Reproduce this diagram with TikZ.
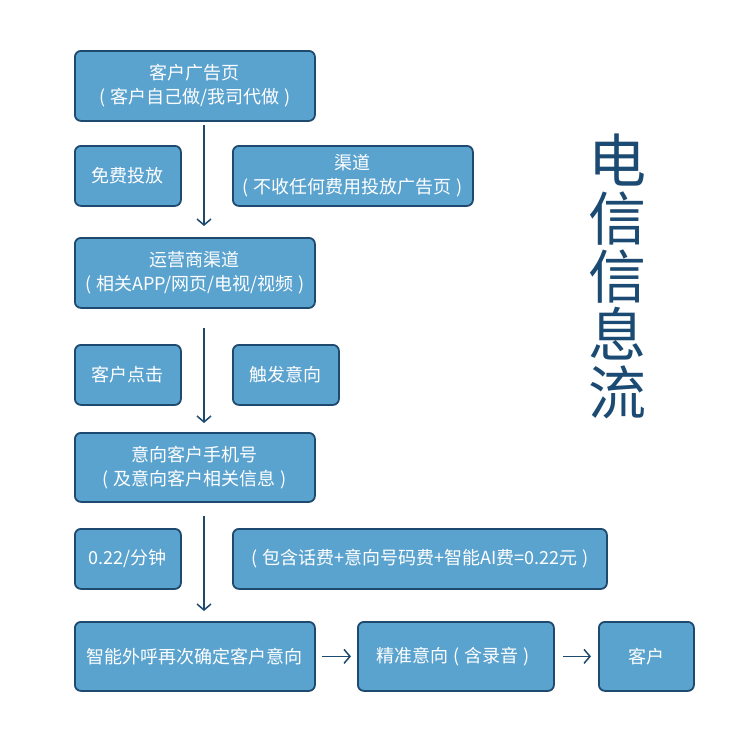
\documentclass[tikz,border=0pt]{standalone}
\usepackage{fontspec}
\setmainfont{Noto Sans CJK SC}
\usetikzlibrary{arrows.meta}
\definecolor{boxfill}{HTML}{5BA3CF}
\definecolor{boxline}{HTML}{1F4A70}
\definecolor{titleblue}{HTML}{1B4A72}
\newcommand{\lp}{\makebox[0.9em][c]{(}}
\newcommand{\rp}{\makebox[0.9em][c]{)}}
\tikzset{
  box/.style={draw=boxline, line width=1.8pt, fill=boxfill, rounded corners=6pt,
    text=white, align=center, font=\fontsize{18}{24}\selectfont, inner sep=0pt},
  flow/.style={draw=boxline, line width=1.5pt, -{Straight Barb[length=6pt,width=14pt,line width=1.5pt]}}
}
\newcommand{\mkbox}[6]{% name, x1, y1, x2, y2, text
  \node[box, minimum width={#4-#2}, minimum height={#5-#3}, anchor=north west] (#1) at (#2,#3) {#6};}
\begin{document}
\begin{tikzpicture}[x=1pt,y=-1pt]
\useasboundingbox (0,0) rectangle (750,750);
\fill[white] (0,0) rectangle (750,750);
\mkbox{b1}{74}{50}{314}{120}{客户广告页\\\lp 客户自己做/我司代做\rp}
\mkbox{s1}{74}{145}{180}{205}{免费投放}
\mkbox{r1}{232}{145}{472}{205}{渠道\\\lp 不收任何费用投放广告页\rp}
\mkbox{b2}{74}{237}{314}{307}{运营商渠道\\\lp 相关APP/网页/电视/视频\rp}
\mkbox{s2}{74}{344}{180}{404}{客户点击}
\mkbox{r2}{232}{344}{338}{404}{触发意向}
\mkbox{b3}{74}{432}{314}{501}{意向客户手机号\\\lp 及意向客户相关信息\rp}
\mkbox{s3}{74}{528}{180}{588}{0.22/分钟}
\mkbox{r3}{232}{528}{606}{588}{\lp 包含话费+意向号码费+智能AI费=0.22元\rp}
\mkbox{b4}{74}{621}{314}{690}{智能外呼再次确定客户意向}
\mkbox{b5}{357}{621}{553}{690}{精准意向\lp 含录音\rp}
\mkbox{b6}{598}{621}{693}{690}{客户}
\coordinate (a1s) at (204,125); \coordinate (a1e) at (204,226);
\coordinate (a2s) at (204,328); \coordinate (a2e) at (204,423);
\coordinate (a3s) at (204,516); \coordinate (a3e) at (204,611);
\draw[flow] (a1s) -- (a1e);
\draw[flow] (a2s) -- (a2e);
\draw[flow] (a3s) -- (a3e);
\draw[flow] ([xshift=6pt]b4.east) -- ([xshift=-6pt]b5.west);
\draw[flow] ([xshift=8pt]b5.east) -- ([xshift=-7pt]b6.west);
\node[text=titleblue, font=\fontsize{58}{58}\selectfont, align=center, inner sep=0pt] (title) at (617,276) {电\\信\\信\\息\\流};
\end{tikzpicture}
\end{document}
